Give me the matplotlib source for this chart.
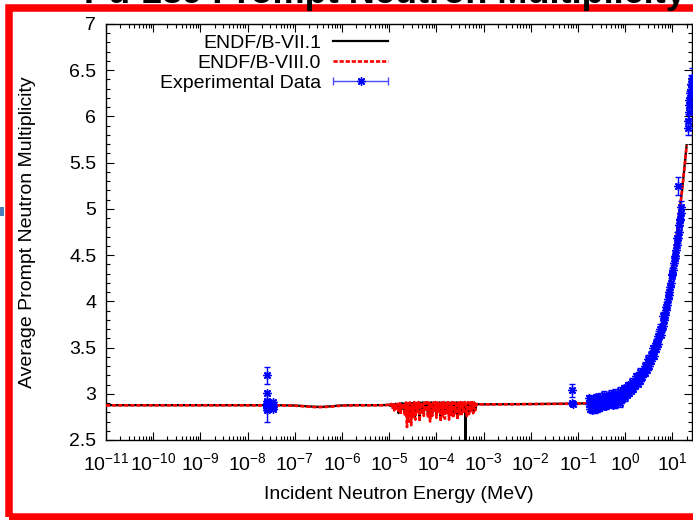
import numpy as np
import matplotlib
matplotlib.use('Agg')
import matplotlib.pyplot as plt
from matplotlib.ticker import LogLocator, MultipleLocator, FuncFormatter, NullFormatter
from matplotlib.patches import Rectangle
from matplotlib.legend_handler import HandlerErrorbar

plt.rcParams['font.family'] = ['Liberation Sans', 'DejaVu Sans']
plt.rcParams['mathtext.fontset'] = 'custom'
plt.rcParams['mathtext.rm'] = 'Liberation Sans'
plt.rcParams['mathtext.default'] = 'regular'
plt.rcParams['font.size'] = 14

# --- evaluated data (MeV, prompt nu-bar) ---
e_low = [1e-11, 1e-9, 1e-8, 5e-8, 1e-7, 1.5e-7, 2e-7, 3e-7, 4e-7, 6e-7, 8e-7, 1e-6, 2e-6, 5e-6, 8e-6]
nu_low71 = [2.877, 2.877, 2.877, 2.876, 2.873, 2.868, 2.863, 2.859, 2.859, 2.865, 2.871, 2.874, 2.877, 2.877, 2.878]
nu_low80 = [2.875, 2.875, 2.875, 2.874, 2.871, 2.865, 2.860, 2.855, 2.856, 2.862, 2.868, 2.872, 2.875, 2.875, 2.876]

e_res = [1.00e-5, 1.05e-5, 1.10e-5, 1.16e-5, 1.22e-5, 1.28e-5, 1.35e-5, 1.42e-5, 1.50e-5, 1.58e-5,
         1.66e-5, 1.75e-5, 1.84e-5, 1.94e-5, 2.04e-5, 2.15e-5, 2.26e-5, 2.38e-5, 2.50e-5, 2.63e-5,
         2.77e-5, 2.92e-5, 3.07e-5, 3.23e-5, 3.40e-5, 3.58e-5, 3.77e-5, 3.97e-5, 4.18e-5, 4.40e-5,
         4.63e-5, 4.87e-5, 5.13e-5, 5.40e-5, 5.68e-5, 5.98e-5, 6.30e-5, 6.63e-5, 6.98e-5, 7.35e-5,
         7.74e-5, 8.15e-5, 8.58e-5, 9.03e-5, 9.50e-5, 1.00e-4, 1.05e-4, 1.11e-4, 1.17e-4, 1.23e-4,
         1.29e-4, 1.36e-4, 1.43e-4, 1.51e-4, 1.59e-4, 1.67e-4, 1.76e-4, 1.85e-4, 1.95e-4, 2.05e-4,
         2.16e-4, 2.27e-4, 2.39e-4, 2.52e-4, 2.65e-4, 2.79e-4, 2.94e-4, 3.09e-4, 3.25e-4, 3.42e-4,
         3.60e-4, 3.79e-4, 3.99e-4, 4.08e-4, 4.12e-4, 4.20e-4, 4.42e-4, 4.65e-4, 4.90e-4, 5.15e-4,
         5.42e-4, 5.71e-4, 6.01e-4, 6.33e-4, 6.66e-4, 7.00e-4]
nu_res80 = [2.880, 2.865, 2.890, 2.850, 2.885, 2.820, 2.895, 2.840, 2.890, 2.800,
            2.895, 2.780, 2.900, 2.830, 2.895, 2.760, 2.905, 2.640, 2.900, 2.700,
            2.905, 2.660, 2.900, 2.750, 2.910, 2.720, 2.900, 2.790, 2.910, 2.700,
            2.905, 2.780, 2.910, 2.760, 2.905, 2.810, 2.910, 2.740, 2.905, 2.700,
            2.910, 2.760, 2.905, 2.820, 2.910, 2.740, 2.905, 2.790, 2.910, 2.700,
            2.905, 2.760, 2.910, 2.730, 2.905, 2.800, 2.910, 2.720, 2.905, 2.770,
            2.910, 2.740, 2.905, 2.790, 2.910, 2.720, 2.905, 2.780, 2.910, 2.760,
            2.905, 2.790, 2.910, 2.880, 2.880, 2.880, 2.760, 2.910, 2.780, 2.905,
            2.800, 2.910, 2.790, 2.905, 2.820, 2.888]
nu_res71 = [2.882, 2.870, 2.890, 2.860, 2.886, 2.830, 2.893, 2.850, 2.890, 2.790,
            2.895, 2.800, 2.900, 2.840, 2.895, 2.790, 2.903, 2.760, 2.900, 2.780,
            2.905, 2.770, 2.900, 2.790, 2.908, 2.760, 2.900, 2.820, 2.908, 2.760,
            2.905, 2.800, 2.908, 2.790, 2.905, 2.830, 2.908, 2.770, 2.905, 2.760,
            2.908, 2.790, 2.905, 2.840, 2.908, 2.780, 2.905, 2.810, 2.908, 2.760,
            2.905, 2.790, 2.908, 2.780, 2.905, 2.820, 2.908, 2.770, 2.905, 2.800,
            2.908, 2.780, 2.905, 2.810, 2.908, 2.770, 2.905, 2.800, 2.908, 2.790,
            2.905, 2.810, 2.908, 2.880, 2.400, 2.880, 2.790, 2.908, 2.800, 2.905,
            2.820, 2.908, 2.810, 2.905, 2.830, 2.888]

e_high = [1e-3, 1e-2, 0.1, 0.2, 0.5, 1.0, 2.0, 3.0, 4.0, 6.0, 8.0, 10.0, 12.0, 14.0, 16.0, 18.0, 20.0]
nu_high71 = [2.886, 2.889, 2.894, 2.900, 2.940, 3.010, 3.150, 3.300, 3.440, 3.730, 4.040, 4.350, 4.650, 4.950, 5.200, 5.450, 5.690]
nu_high80 = [2.885, 2.888, 2.893, 2.899, 2.938, 3.008, 3.148, 3.298, 3.438, 3.728, 4.038, 4.348, 4.648, 4.948, 5.198, 5.448, 5.688]

# --- experimental data ---
exp_e = [2.53e-8, 2.53e-8, 2.53e-8, 2.53e-8, 2.53e-8, 2.53e-8, 2.53e-8, 2.53e-8, 2.53e-8,
         3.5e-8, 3.5e-8, 3.5e-8, 3.5e-8,
         0.075, 0.075, 0.080,
         0.17, 0.18, 0.19, 0.20, 0.21, 0.22, 0.23, 0.24, 0.25, 0.26, 0.27, 0.28, 0.30, 0.31,
         0.33, 0.35, 0.37, 0.39, 0.41, 0.44, 0.46, 0.49, 0.52, 0.55, 0.58, 0.61, 0.64, 0.68,
         0.71, 0.75, 0.79, 0.83, 0.87, 0.91, 0.96, 1.00, 1.05, 1.10, 1.15, 1.20, 1.26, 1.32,
         1.40, 1.48, 1.56, 1.65, 1.75, 1.85, 1.95, 2.05, 2.15, 2.30, 2.45, 2.60, 2.75, 2.90,
         3.05, 3.20, 3.40, 3.60, 3.80, 4.00, 4.25, 4.50, 4.75, 5.00, 5.30, 5.60, 5.90, 6.20,
         6.60, 7.00, 7.40, 7.80, 8.20, 8.60, 9.00, 9.50, 10.0, 10.5, 11.0, 11.5, 12.0, 12.5,
         13.0, 13.2, 13.5, 14.0, 14.5, 15.0, 15.5, 21.0, 22.0, 23.0, 24.0, 25.0, 26.0,
         0.175, 0.195, 0.215, 0.235, 0.255, 0.29, 0.32, 0.36, 0.40, 0.45, 0.50, 0.56, 0.62,
         0.69, 0.77, 0.85, 0.93, 1.02, 1.12, 1.24, 1.36, 1.52, 1.70, 1.90, 2.10, 2.35, 2.60,
         2.85, 3.10, 3.50, 3.90, 4.40, 4.90, 5.50, 6.40, 7.20, 8.40, 9.80, 11.2, 12.8, 14.2,
         21.5, 22.5, 24.5]
exp_nu = [3.20, 3.01, 2.92, 2.89, 2.87, 2.86, 2.85, 2.82, 2.90,
          2.88, 2.86, 2.91, 2.84,
          3.04, 2.90, 2.89,
          2.89, 2.84, 2.92, 2.87, 2.94, 2.88, 2.83, 2.91, 2.87, 2.94, 2.89, 2.85, 2.92, 2.88,
          2.94, 2.90, 2.96, 2.89, 2.93, 2.97, 2.91, 2.95, 2.90, 2.98, 2.93, 2.89, 2.96, 2.99,
          2.93, 2.97, 2.90, 3.01, 2.95, 2.99, 3.03, 2.96, 3.04, 2.99, 3.06, 3.01, 3.07, 3.03,
          3.10, 3.05, 3.12, 3.08, 3.15, 3.11, 3.18, 3.14, 3.20, 3.18, 3.25, 3.22, 3.29, 3.26,
          3.33, 3.30, 3.37, 3.35, 3.43, 3.41, 3.49, 3.48, 3.56, 3.54, 3.62, 3.64, 3.71, 3.73,
          3.80, 3.85, 3.91, 3.96, 4.03, 4.07, 4.15, 4.20, 4.29, 4.34, 4.42, 4.49, 4.56, 4.61,
          4.69, 5.25, 4.75, 4.83, 4.89, 4.96, 5.02, 5.95, 6.05, 6.12, 6.25, 6.35, 6.42,
          2.95, 2.82, 2.91, 2.96, 2.83, 2.97, 2.86, 2.99, 2.87, 2.93, 3.00, 2.88, 3.01,
          2.92, 3.03, 2.94, 3.06, 3.00, 3.09, 3.05, 3.13, 3.09, 3.19, 3.15, 3.24, 3.22, 3.30,
          3.31, 3.38, 3.42, 3.49, 3.55, 3.63, 3.70, 3.84, 3.94, 4.10, 4.30, 4.47, 4.68, 4.88,
          5.88, 6.18, 6.30]
exp_err = [0.09, 0.02, 0.02, 0.01, 0.01, 0.02, 0.01, 0.12, 0.03,
           0.03, 0.02, 0.02, 0.02,
           0.07, 0.01, 0.02,
           0.03, 0.04, 0.03, 0.02, 0.04, 0.03, 0.04, 0.02, 0.03, 0.03, 0.02, 0.04, 0.03, 0.02,
           0.03, 0.03, 0.04, 0.02, 0.03, 0.03, 0.02, 0.03, 0.04, 0.03, 0.02, 0.04, 0.03, 0.03,
           0.02, 0.03, 0.04, 0.03, 0.02, 0.03, 0.03, 0.04, 0.03, 0.02, 0.03, 0.03, 0.03, 0.02,
           0.03, 0.03, 0.03, 0.02, 0.03, 0.03, 0.03, 0.02, 0.03, 0.03, 0.03, 0.03, 0.03, 0.02,
           0.03, 0.03, 0.03, 0.03, 0.03, 0.03, 0.04, 0.03, 0.04, 0.03, 0.04, 0.03, 0.04, 0.04,
           0.04, 0.04, 0.05, 0.04, 0.05, 0.04, 0.05, 0.05, 0.05, 0.05, 0.06, 0.05, 0.06, 0.06,
           0.06, 0.10, 0.06, 0.06, 0.06, 0.07, 0.07, 0.08, 0.08, 0.09, 0.09, 0.10, 0.10,
           0.04, 0.03, 0.03, 0.04, 0.03, 0.04, 0.03, 0.04, 0.03, 0.03, 0.04, 0.03, 0.04,
           0.03, 0.04, 0.03, 0.04, 0.03, 0.04, 0.03, 0.04, 0.03, 0.04, 0.03, 0.04, 0.03, 0.04,
           0.03, 0.04, 0.04, 0.04, 0.04, 0.05, 0.05, 0.05, 0.05, 0.06, 0.06, 0.06, 0.07, 0.07,
           0.08, 0.09, 0.09]

labels = ['ENDF/B-VII.1', 'ENDF/B-VIII.0', 'Experimental Data']
title = 'Pu-239 Prompt Neutron Multiplicity'

fig = plt.figure(figsize=(6.93, 5.2), dpi=100)
ax = fig.add_axes([106 / 693, 80 / 520, 586 / 693, 416 / 520])

star = (8, 2, 0)
l71, = ax.plot(e_low + e_res + e_high, nu_low71 + nu_res71 + nu_high71,
               color='black', lw=1.6, zorder=2)
l80, = ax.plot(e_low + e_res + e_high, nu_low80 + nu_res80 + nu_high80,
               color='red', lw=1.9, dashes=(1.6, 0.7), zorder=3)
ax.errorbar(exp_e, exp_nu, yerr=exp_err, ls='none', marker=star, ms=6, mew=1,
            color='blue', ecolor='blue', elinewidth=1, capsize=2.5, capthick=1, zorder=4)
proxy = ax.errorbar([np.nan], [np.nan], xerr=[1.0], ls='none', marker=star, ms=6, mew=1,
                    color='blue', ecolor='#4a4aff', elinewidth=1, capsize=3, capthick=1)

ax.set_xscale('log')
ax.set_xlim(1e-11, 26)
ax.set_ylim(2.5, 7)
ax.xaxis.set_major_locator(LogLocator(base=10, numticks=30))
ax.xaxis.set_minor_locator(LogLocator(base=10, subs=np.arange(2, 10), numticks=30))
ax.xaxis.set_minor_formatter(NullFormatter())
ax.yaxis.set_major_locator(MultipleLocator(0.5))
ax.yaxis.set_minor_locator(MultipleLocator(0.1))
ax.yaxis.set_major_formatter(FuncFormatter(lambda v, p: '%g' % v))
ax.tick_params(which='both', direction='in', top=True, right=True, width=0.8, labelsize=14)
ax.tick_params(which='major', length=5.5)
ax.tick_params(which='minor', length=2.8)
ax.tick_params(axis='y', pad=7)
ax.tick_params(axis='x', pad=9)
for s in ax.spines.values():
    s.set_linewidth(1.0)

ax.set_xlabel('Incident Neutron Energy (MeV)', fontsize=14, labelpad=8)
ax.set_ylabel('Average Prompt Neutron Multiplicity', fontsize=14, labelpad=24)

ax.legend([l71, l80, proxy], labels, loc='upper left',
          bbox_to_anchor=(160 / 693, 1 - 34 / 520), bbox_transform=fig.transFigure,
          frameon=False, markerfirst=False, fontsize=14, handlelength=2.83,
          handletextpad=0.62, labelspacing=0.12, borderpad=0, borderaxespad=0,
          handler_map={proxy: HandlerErrorbar(xerr_size=1.41)})

# slide frame bits around the cropped chart
fig.add_artist(Rectangle((8.5 / 693, 3 / 520), 1.1, 509 / 520, transform=fig.transFigure,
                         fill=False, ec='red', lw=5.4, zorder=5))
fig.add_artist(Rectangle((0, 1 - 216 / 520), 4 / 693, 9 / 520, transform=fig.transFigure,
                         fc='#4a7ebb', ec='none', zorder=5))
fig.text(686 / 693, 1 - 3 / 520, title, ha='right', va='baseline', fontsize=26,
         fontweight='bold', zorder=10)

fig.savefig('out.png', dpi=100)
